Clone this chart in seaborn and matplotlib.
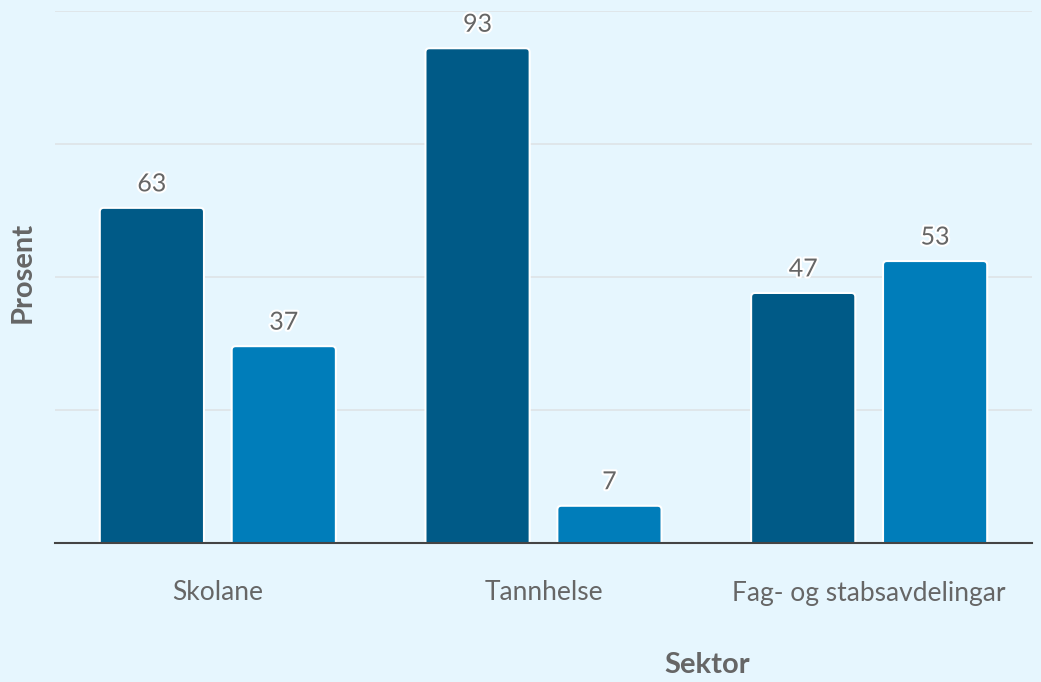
import matplotlib
matplotlib.use("Agg")
import matplotlib.pyplot as plt
import matplotlib.patheffects as pe
import seaborn as sns
import pandas as pd
from matplotlib.patches import FancyBboxPatch

categories = ["Skolane", "Tannhelse", "Fag- og stabsavdelingar"]
series_names = ["Serie 1", "Serie 2"]
series1 = [63, 93, 47]
series2 = [37, 7, 53]
yticks = [0, 25, 50, 75, 100]

df = pd.DataFrame({
    "Sektor": categories * 2,
    "Serie": [series_names[0]] * 3 + [series_names[1]] * 3,
    "Prosent": series1 + series2,
})

sns.set_theme(style="white")
plt.rcParams["font.family"] = ["Lato", "DejaVu Sans"]

bg = "#e6f6fe"
fig = plt.figure(figsize=(10.41, 6.82), dpi=100, facecolor=bg)
ax = fig.add_axes([55 / 1041, 1 - 543 / 682, 977 / 1041, 532 / 682])
ax.set_facecolor(bg)

palette = ["#005a87", "#007dba"]
sns.barplot(data=df, x="Sektor", y="Prosent", hue="Serie", palette=palette,
            width=0.81, gap=0.21, ax=ax, legend=False, saturation=1,
            edgecolor="none")

ax.set_ylim(0, 100)
ax.set_xlim(-0.5, 2.5)
ax.set_yticks(yticks)
ax.set_yticklabels([])
ax.tick_params(axis="y", length=0)
ax.tick_params(axis="x", length=0, pad=27, labelsize=19, labelcolor="#666666")
ax.grid(axis="y", color="#dfe5e8", linewidth=1.3)
ax.set_axisbelow(True)
for s in ["top", "right", "left"]:
    ax.spines[s].set_visible(False)
ax.spines["bottom"].set_color("#444444")
ax.spines["bottom"].set_linewidth(1.5)
ax.spines["bottom"].set_zorder(5)

# rounded-top bars
xpx = ax.get_window_extent().width / 3.0
ypx = ax.get_window_extent().height / 100.0
rx = 4 / xpx
aspect = (1 / ypx) / (1 / xpx)
for container in ax.containers:
    for p in container:
        x, w, h = p.get_x(), p.get_width(), p.get_height()
        fc = p.get_facecolor()
        p.set_visible(False)
        fb = FancyBboxPatch((x, -2), w, h + 2,
                            boxstyle=f"round,pad=0,rounding_size={rx}",
                            mutation_aspect=aspect, facecolor=fc,
                            edgecolor="white", linewidth=1.5, zorder=3)
        ax.add_patch(fb)
    labels = ax.bar_label(container, padding=9, fontsize=18, color="#666666")
    for t in labels:
        t.set_path_effects([pe.withStroke(linewidth=3, foreground="white")])

ax.set_xlabel("Sektor", fontsize=21, fontweight="bold", color="#666666")
ax.xaxis.label.set_va("center")
ax.xaxis.set_label_coords((707 - 55) / 977, -(665 - 543) / 532)
ax.set_ylabel("Prosent", fontsize=21, fontweight="bold", color="#666666")
ax.yaxis.label.set_va("center")
ax.yaxis.set_label_coords(-(55 - 23) / 977, 0.508)

fig.savefig("out.png", dpi=100, facecolor=bg)
